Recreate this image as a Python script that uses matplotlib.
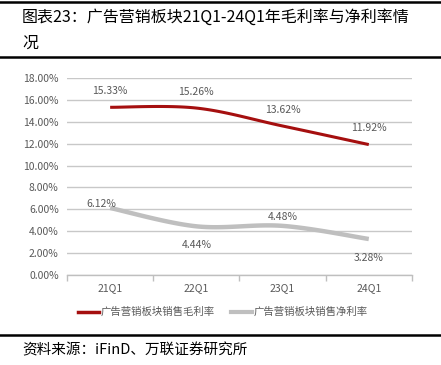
import matplotlib
matplotlib.use("Agg")
import matplotlib.pyplot as plt  # noqa: E402
from matplotlib.lines import Line2D  # noqa: E402

import numpy as np

plt.rcParams["font.family"] = ["Noto Sans CJK SC", "DejaVu Sans"]

quarters = ["21Q1", "22Q1", "23Q1", "24Q1"]
gross_margin = [15.33, 15.26, 13.62, 11.92]
net_margin = [6.12, 4.44, 4.48, 3.28]
gross_name = "广告营销板块销售毛利率"
net_name = "广告营销板块销售净利率"

RED = "#A50F0F"
GREY = "#BFBFBF"
TXT = "#595959"


def smooth(xs, ys, n=40):
    """Excel-like smoothed line (Catmull-Rom as cubic Bezier)."""
    p = np.column_stack([xs, ys]).astype(float)
    ext = np.vstack([p[0], p, p[-1]])
    out = []
    t = np.linspace(0, 1, n)[:, None]
    for i in range(len(p) - 1):
        p0, p1 = ext[i + 1], ext[i + 2]
        c1 = p0 + (ext[i + 2] - ext[i]) / 6
        c2 = p1 - (ext[i + 3] - ext[i + 1]) / 6
        seg = ((1 - t) ** 3) * p0 + 3 * ((1 - t) ** 2) * t * c1 \
            + 3 * (1 - t) * t ** 2 * c2 + t ** 3 * p1
        out.append(seg)
    pts = np.vstack(out)
    return pts[:, 0], pts[:, 1]


fig = plt.figure(figsize=(4.41, 3.65), dpi=100)
ax = fig.add_axes([0.152, 0.247, 0.782, 0.539])

x = np.arange(len(quarters))
gx, gy = smooth(x, gross_margin)
nx, ny = smooth(x, net_margin)
ax.plot(gx, gy, color=RED, linewidth=2.2, solid_capstyle="butt")
ax.plot(nx, ny, color=GREY, linewidth=3.2, solid_capstyle="butt")

# data labels
for i, v in enumerate(gross_margin):
    ax.annotate(f"{v:.2f}%", (x[i], v), xytext=(0, 8), textcoords="offset points",
                ha="center", va="bottom", fontsize=7.5, color=TXT)
net_offsets = [(-6, -1), (0, -10), (0, 3), (0, -10)]
for i, v in enumerate(net_margin):
    dx, dy = net_offsets[i]
    ax.annotate(f"{v:.2f}%", (x[i], v), xytext=(dx, dy), textcoords="offset points",
                ha="center", va="bottom" if dy > -5 else "top", fontsize=7.5, color=TXT)

ax.set_xlim(-0.5, len(quarters) - 0.5)
ax.set_ylim(0, 18)
ax.set_yticks(np.arange(0, 18.1, 2))
ax.set_yticklabels([f"{v:.2f}%" for v in np.arange(0, 18.1, 2)])
ax.set_xticks(x)
ax.set_xticklabels(quarters)
ax.set_xticks(np.arange(-0.5, len(quarters), 1), minor=True)
ax.tick_params(axis="y", length=0, labelsize=7.5, labelcolor=TXT, pad=6)
ax.tick_params(axis="x", which="major", length=0, labelsize=7.5, labelcolor=TXT, pad=6)
ax.tick_params(axis="x", which="minor", length=4, color=GREY, width=1)
ax.grid(axis="y", color="#C8C8C8", linewidth=1)
ax.set_axisbelow(True)
for s in ["top", "right", "left"]:
    ax.spines[s].set_visible(False)
ax.spines["bottom"].set_color(GREY)
ax.spines["bottom"].set_linewidth(1)

handles = [Line2D([], [], color=RED, linewidth=2.5),
           Line2D([], [], color=GREY, linewidth=3)]
fig.legend(handles, [gross_name, net_name], loc="center", bbox_to_anchor=(0.505, 0.145),
           ncol=2, frameon=False, fontsize=7.5, labelcolor=TXT, handlelength=2.0,
           handletextpad=0.15, columnspacing=1.6)

# title, rules and source
fig.text(0.05, 1 - 17 / 365, "图表23：广告营销板块21Q1-24Q1年毛利率与净利率情",
         fontsize=11.5, va="center", ha="left")
fig.text(0.05, 1 - 43 / 365, "况", fontsize=11.5, va="center", ha="left")
for yy in [1 - 1.5 / 365, 1 - 57 / 365, 1 - 335 / 365]:
    fig.add_artist(Line2D([0, 1], [yy, yy], color="black", linewidth=1.8,
                          transform=fig.transFigure))
fig.text(0.05, 1 - 350 / 365, "资料来源：iFinD、万联证券研究所", fontsize=10.5,
         style="italic", va="center", ha="left")

fig.savefig("out.png", dpi=100)
plt.close(fig)
